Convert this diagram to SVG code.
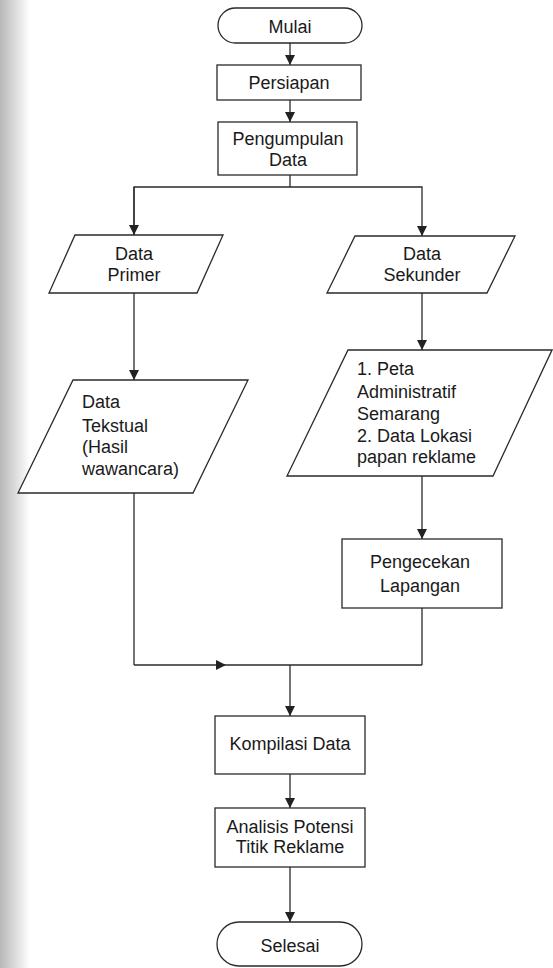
<svg xmlns="http://www.w3.org/2000/svg" width="553" height="968" viewBox="0 0 553 968">
<defs>
<linearGradient id="scan" x1="0" y1="0" x2="1" y2="0">
<stop offset="0" stop-color="#b8b8b8"/>
<stop offset="1" stop-color="#ffffff"/>
</linearGradient>
<marker id="arr" viewBox="0 0 10 10" refX="10" refY="5" markerWidth="10" markerHeight="10" markerUnits="userSpaceOnUse" orient="auto">
<path d="M0,0 L10,5 L0,10 z" fill="#222"/>
</marker>
</defs>
<style>
.shape{fill:#fff;stroke:#2a2a2a;stroke-width:1.3}
.line{fill:none;stroke:#2a2a2a;stroke-width:1.3}
text{font-family:"Liberation Sans",Arial,sans-serif;font-size:18px;fill:#1a1a1a}
.c{text-anchor:middle}
</style>
<rect x="0" y="0" width="553" height="968" fill="#fff"/>
<rect x="0" y="0" width="30" height="968" fill="url(#scan)"/>
<g id="connectors">
<line class="line" x1="290" y1="43" x2="290" y2="65" marker-end="url(#arr)"/>
<line class="line" x1="290" y1="100" x2="290" y2="122" marker-end="url(#arr)"/>
<polyline class="line" points="290,175 290,187"/>
<polyline class="line" points="134,235 134,187 422,187 422,236" marker-end="url(#arr)"/>
<line class="line" x1="134" y1="187" x2="134" y2="235" marker-end="url(#arr)"/>
<line class="line" x1="134" y1="293" x2="134" y2="380" marker-end="url(#arr)"/>
<line class="line" x1="422" y1="293" x2="422" y2="350" marker-end="url(#arr)"/>
<line class="line" x1="422" y1="476" x2="422" y2="539" marker-end="url(#arr)"/>
<line class="line" x1="134" y1="493" x2="134" y2="665"/>
<line class="line" x1="134" y1="665" x2="226" y2="665" marker-end="url(#arr)"/>
<line class="line" x1="226" y1="665" x2="422" y2="665"/>
<line class="line" x1="422" y1="608" x2="422" y2="665"/>
<line class="line" x1="290" y1="665" x2="290" y2="716" marker-end="url(#arr)"/>
<line class="line" x1="290" y1="774" x2="290" y2="808" marker-end="url(#arr)"/>
<line class="line" x1="290" y1="867" x2="290" y2="922" marker-end="url(#arr)"/>
</g>
<g id="mulai">
<rect class="shape" x="218" y="8" width="144" height="35" rx="17.5"/>
<text class="c" x="290" y="33">Mulai</text>
</g>
<g id="persiapan">
<rect class="shape" x="217" y="65" width="144" height="35"/>
<text class="c" x="289" y="89">Persiapan</text>
</g>
<g id="pengumpulan">
<rect class="shape" x="218" y="122" width="139" height="53"/>
<text class="c" x="288" y="145">Pengumpulan</text>
<text class="c" x="288" y="166">Data</text>
</g>
<g id="data-primer">
<polygon class="shape" points="75,235 223,235 197,293 49,293"/>
<text class="c" x="134" y="260">Data</text>
<text class="c" x="134" y="281">Primer</text>
</g>
<g id="data-sekunder">
<polygon class="shape" points="355,236 515,236 487,293 327,293"/>
<text class="c" x="422" y="260">Data</text>
<text class="c" x="422" y="281">Sekunder</text>
</g>
<g id="data-tekstual">
<polygon class="shape" points="73,380 248,380 193,493 18,493"/>
<text x="82" y="408">Data</text>
<text x="82" y="432">Tekstual</text>
<text x="82" y="453">(Hasil</text>
<text x="82" y="475">wawancara)</text>
</g>
<g id="peta">
<polygon class="shape" points="348,350 552,350 493,476 287,476"/>
<text x="357" y="375">1. Peta</text>
<text x="357" y="398">Administratif</text>
<text x="357" y="420">Semarang</text>
<text x="357" y="442">2. Data Lokasi</text>
<text x="357" y="463">papan reklame</text>
</g>
<g id="pengecekan">
<rect class="shape" x="342" y="539" width="160" height="69"/>
<text class="c" x="420" y="568">Pengecekan</text>
<text class="c" x="420" y="592">Lapangan</text>
</g>
<g id="kompilasi">
<rect class="shape" x="215" y="716" width="150" height="58"/>
<text class="c" x="290" y="750">Kompilasi Data</text>
</g>
<g id="analisis">
<rect class="shape" x="215" y="808" width="150" height="59"/>
<text class="c" x="290" y="833">Analisis Potensi</text>
<text class="c" x="290" y="853">Titik Reklame</text>
</g>
<g id="selesai">
<rect class="shape" x="217" y="922" width="145" height="44" rx="22"/>
<text class="c" x="290" y="952">Selesai</text>
</g>
</svg>
